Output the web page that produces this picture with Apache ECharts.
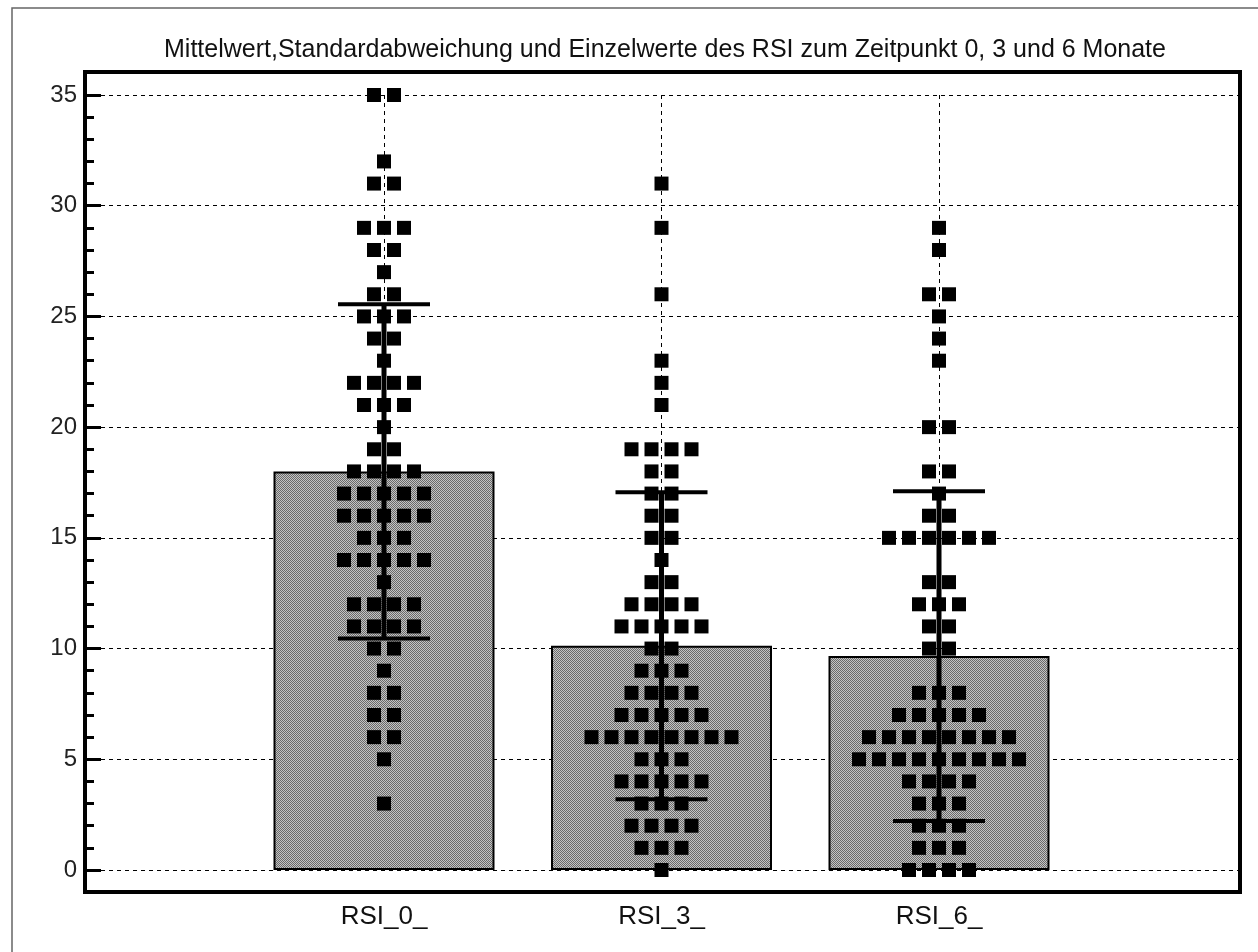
<!DOCTYPE html>
<html>
<head>
<meta charset="utf-8">
<script src="https://cdn.jsdelivr.net/npm/echarts@6/dist/echarts.min.js"></script>
<style>
html,body{margin:0;padding:0;background:#fff;}
#chart{width:1258px;height:952px;}
</style>
</head>
<body>
<div id="chart"></div>
<script>
const titleText = 'Mittelwert,Standardabweichung und Einzelwerte des RSI zum Zeitpunkt 0, 3 und 6 Monate';
const categories = ['RSI_0_', 'RSI_3_', 'RSI_6_'];
const meanValues = [18.0, 10.13, 9.66];
const sdValues = [7.55, 6.93, 7.45];
// individual values: [value, number of patients with that value]
const rsi0Counts = [[35,2],[32,1],[31,2],[29,3],[28,2],[27,1],[26,2],[25,3],[24,2],[23,1],[22,4],[21,3],[20,1],[19,2],[18,4],[17,5],[16,5],[15,3],[14,5],[13,1],[12,4],[11,4],[10,2],[9,1],[8,2],[7,2],[6,2],[5,1],[3,1]];
const rsi3Counts = [[31,1],[29,1],[26,1],[23,1],[22,1],[21,1],[19,4],[18,2],[17,2],[16,2],[15,2],[14,1],[13,2],[12,4],[11,5],[10,2],[9,3],[8,4],[7,5],[6,8],[5,3],[4,5],[3,3],[2,4],[1,3],[0,1]];
const rsi6Counts = [[29,1],[28,1],[26,2],[25,1],[24,1],[23,1],[20,2],[18,2],[17,1],[16,2],[15,6],[13,2],[12,3],[11,2],[10,2],[8,3],[7,5],[6,8],[5,9],[4,4],[3,3],[2,3],[1,3],[0,4]];
const yMin = 0, yMax = 35, yStep = 5;

const allCounts = [rsi0Counts, rsi3Counts, rsi6Counts];

// dithered gray fill like the original
const pat = document.createElement('canvas');
pat.width = 2; pat.height = 2;
const pc = pat.getContext('2d');
pc.fillStyle = '#c4c4c4'; pc.fillRect(0,0,2,2);
pc.fillStyle = '#6a6a6a'; pc.fillRect(0,0,1,1); pc.fillRect(1,1,1,1);

const dotData = [];
allCounts.forEach((counts, ci) => {
  counts.forEach(([v, n]) => {
    for (let i = 0; i < n; i++) {
      dotData.push({ value: [ci + 1, v], symbolOffset: [(i - (n - 1) / 2) * 20, 0] });
    }
  });
});

const chart = echarts.init(document.getElementById('chart'));
const FONT = 'Liberation Sans, Arial, sans-serif';
chart.setOption({
  animation: false,
  backgroundColor: '#fff',
  textStyle: { fontFamily: FONT },
  title: {
    text: titleText, left: 660, top: 33, textAlign: 'center',
    textStyle: { fontSize: 25, fontWeight: 'normal', color: '#111', fontFamily: FONT }
  },
  graphic: [
    { type: 'rect', z: 100, silent: true, shape: { x: 12, y: 8, width: 1300, height: 1000 }, style: { fill: 'none', stroke: '#666', lineWidth: 1.5 } },
    { type: 'rect', z: 100, silent: true, shape: { x: 85, y: 72, width: 1155, height: 820 }, style: { fill: 'none', stroke: '#000', lineWidth: 4 } }
  ],
  grid: [
    { left: 85, right: 18, top: 95, bottom: 82 },
    { left: 106.5, right: 41.5, top: 95, bottom: 82 }
  ],
  xAxis: [
    { gridIndex: 0, type: 'value', show: false, min: 0, max: 1 },
    {
      gridIndex: 1, type: 'value', min: 0, max: 4, interval: 1,
      axisLine: { show: false }, axisTick: { show: false },
      splitLine: { show: true, lineStyle: { color: ['rgba(0,0,0,0)', '#000', '#000', '#000', 'rgba(0,0,0,0)'], width: 1, type: [4, 4] } },
      axisLabel: { fontSize: 26, color: '#111', margin: 34, formatter: v => categories[v - 1] || '' }
    }
  ],
  yAxis: [
    {
      gridIndex: 0, type: 'value', min: yMin, max: yMax, interval: yStep,
      axisLine: { show: true, lineStyle: { color: '#000', width: 4 } },
      axisTick: { show: true, inside: true, length: 16, lineStyle: { color: '#000', width: 3 } },
      minorTick: { show: true, splitNumber: 5, length: 9, lineStyle: { color: '#000', width: 3 } },
      axisLabel: { fontSize: 24, color: '#222', margin: 8 },
      splitLine: { show: true, lineStyle: { color: '#000', width: 1, type: [4, 4] } }
    },
    { gridIndex: 1, type: 'value', min: yMin, max: yMax, interval: yStep, show: false }
  ],
  series: [
    {
      type: 'bar', xAxisIndex: 1, yAxisIndex: 1, barWidth: 221, z: 2,
      itemStyle: { color: { image: pat, repeat: 'repeat' }, borderColor: '#000', borderWidth: 2, opacity: 1 },
      data: meanValues.map((m, i) => [i + 1, m])
    },
    {
      type: 'scatter', xAxisIndex: 1, yAxisIndex: 1, symbol: 'rect', symbolSize: 14, z: 3,
      itemStyle: { color: '#000', opacity: 1 },
      data: dotData
    },
    {
      type: 'custom', xAxisIndex: 1, yAxisIndex: 1, z: 4,
      data: meanValues.map((m, i) => [i + 1, m - sdValues[i], m + sdValues[i]]),
      renderItem: (params, api) => {
        const lo = api.coord([api.value(0), api.value(1)]);
        const hi = api.coord([api.value(0), api.value(2)]);
        const hw = 46;
        return {
          type: 'group',
          children: [
            { type: 'line', shape: { x1: lo[0], y1: lo[1], x2: hi[0], y2: hi[1] }, style: { stroke: '#000', lineWidth: 5 } },
            { type: 'line', shape: { x1: lo[0] - hw, y1: lo[1], x2: lo[0] + hw, y2: lo[1] }, style: { stroke: '#000', lineWidth: 4 } },
            { type: 'line', shape: { x1: hi[0] - hw, y1: hi[1], x2: hi[0] + hw, y2: hi[1] }, style: { stroke: '#000', lineWidth: 4 } }
          ]
        };
      }
    }
  ]
});
</script>
</body>
</html>
